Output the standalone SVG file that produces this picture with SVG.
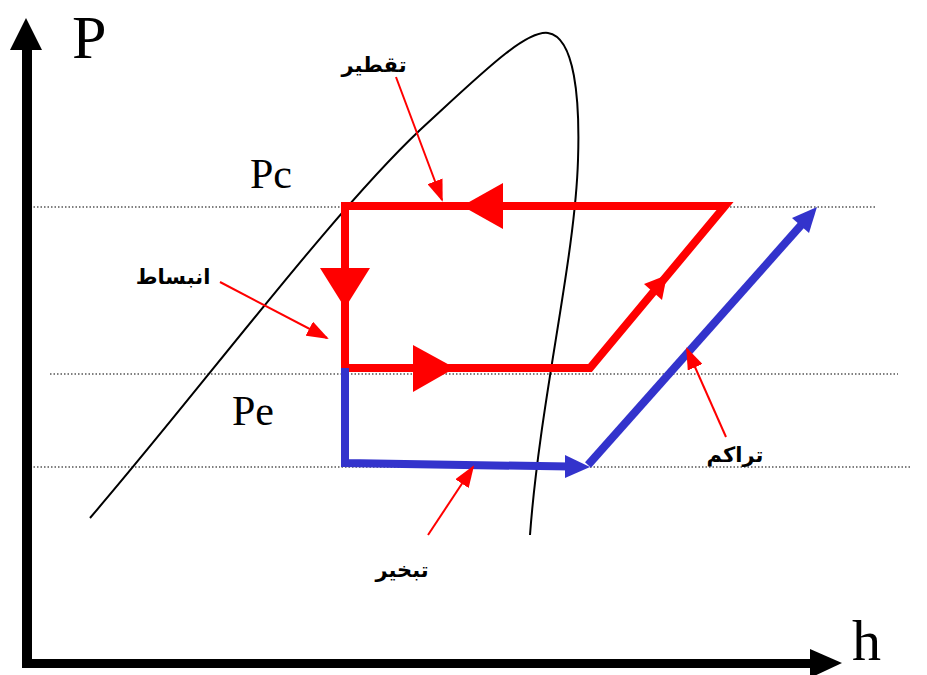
<svg xmlns="http://www.w3.org/2000/svg" width="927" height="675" viewBox="0 0 927 675">
<style>
.dot{stroke:#000;stroke-width:1.2;stroke-dasharray:1.5,2;fill:none}
.red{stroke:#FF0000;stroke-width:8;fill:none;stroke-linejoin:miter}
.blue{stroke:#3333CC;stroke-width:8;fill:none}
.ptr{stroke:#FF0000;stroke-width:2;fill:none;marker-end:url(#ph)}
.lbl{font-family:"Liberation Serif","Times New Roman",serif;fill:#000}
.ar{font-family:"DejaVu Sans",sans-serif;font-weight:bold;font-size:21px;fill:#000;text-anchor:middle}
</style>
<defs>
<marker id="ph" markerUnits="userSpaceOnUse" markerWidth="22" markerHeight="16" viewBox="0 0 22 16" refX="20" refY="8" orient="auto">
<path d="M0,0 L22,8 L0,16 Z" fill="#FF0000"/>
</marker>
</defs>
<g id="grid">
<line class="dot" x1="30" y1="207" x2="875" y2="207"/>
<line class="dot" x1="50" y1="374" x2="898" y2="374"/>
<line class="dot" x1="30" y1="467" x2="912" y2="467"/>
</g>
<g id="dome">
<path d="M90,518 C200,390 330,215 420,130 C480,75 525,30 548,33 C575,37 580,100 578,160 C575,260 540,400 530,535" fill="none" stroke="#000" stroke-width="2"/>
</g>
<g id="axes">
<line x1="27" y1="668" x2="27" y2="45" stroke="#000" stroke-width="10"/>
<polygon points="26,18 10,50 42,50" fill="#000"/>
<line x1="22" y1="663.5" x2="815" y2="663.5" stroke="#000" stroke-width="9"/>
<polygon points="842,663 810,649 810,678" fill="#000"/>
<text class="lbl" x="72" y="58" font-size="62">P</text>
<text class="lbl" x="852" y="660" font-size="58">h</text>
</g>
<g id="labels">
<text class="lbl" x="250" y="188" font-size="42">Pc</text>
<text class="lbl" x="232" y="425" font-size="42">Pe</text>
</g>
<g id="red-cycle">
<path class="red" d="M345,206 L345,368 L590,368 L725,206 Z"/>
<polygon points="462,206 503,183 503,229" fill="#FF0000"/>
<polygon points="320,268 370,268 345,308" fill="#FF0000"/>
<polygon points="413,345 413,392 455,368" fill="#FF0000"/>
<polygon points="667,275 662,300 644,284" fill="#FF0000"/>
</g>
<g id="blue-path">
<path class="blue" d="M345,368 L345,463 L570,466.6"/>
<polygon points="590,467 565,455 565,478" fill="#3333CC"/>
<line class="blue" x1="588" y1="465" x2="803" y2="223"/>
<polygon points="817,207 792,218 809,233" fill="#3333CC"/>
</g>
<g id="condensation">
<text class="ar" x="374" y="72">تقطير</text>
</g>
<g id="expansion">
<text class="ar" x="173" y="284">انبساط</text>
</g>
<g id="evaporation">
<text class="ar" x="402" y="577">تبخير</text>
</g>
<g id="compression">
<text class="ar" x="735" y="462">تراكم</text>
</g>
<g id="connectors">
<line class="ptr" x1="396" y1="77" x2="442" y2="200"/>
<line class="ptr" x1="220" y1="282" x2="327" y2="338"/>
<line class="ptr" x1="428" y1="535" x2="473" y2="467"/>
<line class="ptr" x1="726" y1="437" x2="687" y2="349"/>
</g>
</svg>
